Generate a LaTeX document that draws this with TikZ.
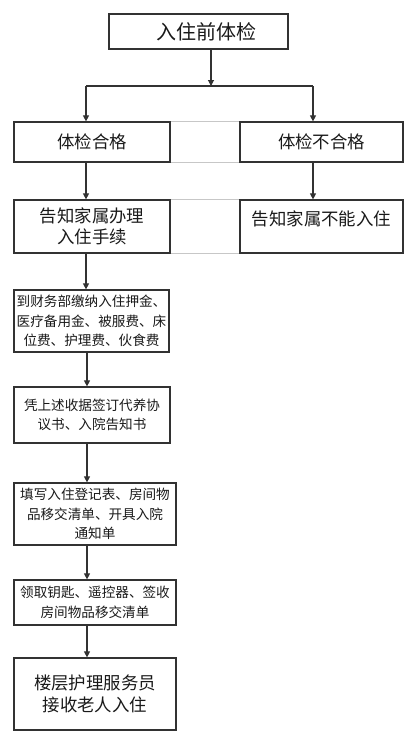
\documentclass[tikz,border=0pt]{standalone}
\usepackage{fontspec}
\usetikzlibrary{positioning, arrows.meta, calc}
\newfontfamily\cjk{Noto Sans CJK SC}
\definecolor{cL}{RGB}{50,50,50}

\tikzset{
    box/.style={draw=cL, line width=1.2pt, inner sep=0pt, align=center, text=black!90},
    bigtxt/.style={font=\cjk\fontsize{20}{24}\selectfont},
    midtxt/.style={font=\cjk\fontsize{17.4}{21.5}\selectfont},
    smalltxt/.style={font=\cjk\fontsize{13.6}{19.5}\selectfont},
    arr/.style={draw=cL, line width=1.1pt, -{Triangle[width=6pt,length=6pt]}},
    wire/.style={draw=cL, line width=1.1pt},
    ghost/.style={draw=black!22, line width=1.2pt}
}

\begin{document}
\begin{tikzpicture}[x=1pt, y=-1pt]
    \useasboundingbox (0,0) rectangle (410,736);

    % Top check box
    \node[box, bigtxt, minimum width=179pt, minimum height=35pt] (check) at (198.5,31.5) {\hspace*{16pt}入住前体检};

    % Two results
    \node[box, midtxt, minimum width=156pt, minimum height=40pt] (pass) at (92,142) {体检合格};
    \node[box, midtxt, minimum width=163pt, minimum height=40pt] (fail) at (321.5,142) {体检不合格};

    % Notify family
    \node[box, midtxt, minimum width=156pt, minimum height=53pt] (tell) at (92,226.5) {告知家属办理\\入住手续};
    \node[box, minimum width=163pt, minimum height=53pt] (tellno) at (321.5,226.5) {};
    \node[midtxt, text=black!90, inner sep=0pt] (tellnotxt) at ([yshift=8pt]tellno.center) {告知家属不能入住};

    % Procedure chain
    \node[box, smalltxt, minimum width=155pt, minimum height=62pt] (fee) at (91.5,321) {到财务部缴纳入住押金、\\医疗备用金、被服费、床\\位费、护理费、伙食费};
    \node[box, smalltxt, minimum width=156pt, minimum height=56pt] (sign) at (92,415) {凭上述收据签订代养协\\议书、入院告知书};
    \node[box, smalltxt, minimum width=162pt, minimum height=62pt] (form) at (95,514) {填写入住登记表、房间物\\品移交清单、开具入院\\通知单};
    \node[box, smalltxt, minimum width=162pt, minimum height=45pt] (keys) at (95,602.5) {领取钥匙、遥控器、签收\\房间物品移交清单};
    \node[box, midtxt, minimum width=162pt, minimum height=72pt] (nurse) at (95,694) {楼层护理服务员\\接收老人入住};

    % Branch coordinates
    \coordinate (split) at (211,86);
    \coordinate (brL) at (86,86);
    \coordinate (brR) at (313,86);
    \coordinate (col) at (87,0);

    % Faint table lines
    \draw[ghost] (pass.north east) -- (fail.north west);
    \draw[ghost] (pass.south east) -- (fail.south west);
    \draw[ghost] (tell.north east) -- (tellno.north west);
    \draw[ghost] (tell.south east) -- (tellno.south west);

    % Branch from top box
    \draw[arr] (check.south -| split) -- (split);
    \draw[wire] (brL) -- (brR);
    \draw[arr] (brL) -- (brL |- pass.north);
    \draw[arr] (brR) -- (brR |- fail.north);

    % Down arrows
    \draw[arr] (pass.south -| brL) -- (tell.north -| brL);
    \draw[arr] (fail.south -| brR) -- (tellno.north -| brR);
    \draw[arr] (tell.south -| brL) -- (fee.north -| brL);
    \draw[arr] (fee.south -| col) -- (sign.north -| col);
    \draw[arr] (sign.south -| col) -- (form.north -| col);
    \draw[arr] (form.south -| col) -- (keys.north -| col);
    \draw[arr] (keys.south -| col) -- (nurse.north -| col);
\end{tikzpicture}
\end{document}
